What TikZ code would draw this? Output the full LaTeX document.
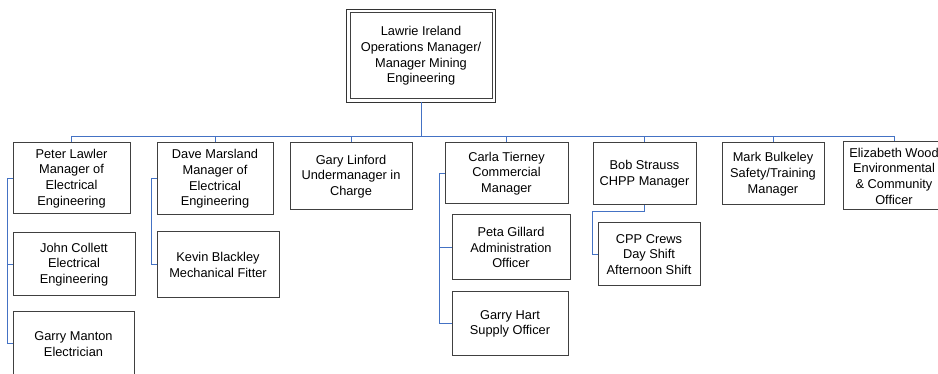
\documentclass[tikz,border=0pt]{standalone}
\usepackage{fontspec}
\setmainfont{Liberation Sans}
\usetikzlibrary{positioning}
\definecolor{linkblue}{RGB}{68,114,196}

\begin{document}
\begin{tikzpicture}[
    x=1pt, y=-1pt,
    box/.style={draw=black!75, line width=1pt, fill=white, align=center, inner sep=0pt,
        font=\fontsize{12.8}{15.7}\selectfont},
    link/.style={draw=linkblue, line width=1pt}
]
\useasboundingbox (0,0) rectangle (938,374);

% top
\node[box, minimum width=142pt, minimum height=86pt] (top) at (421,56)
    {Lawrie Ireland\\Operations Manager/\\Manager Mining\\Engineering};
\draw[draw=black!80, line width=1.2pt] ([shift={(-3pt,-3pt)}]top.south west)
    rectangle ([shift={(3pt,3pt)}]top.north east);

% first row
\node[box, minimum width=117pt, minimum height=71pt] (peter) at (71.5,178.5)
    {Peter Lawler\\Manager of\\Electrical\\Engineering};
\node[box, minimum width=116pt, minimum height=72pt] (dave) at (215,179)
    {Dave Marsland\\Manager of\\Electrical\\Engineering};
\node[box, minimum width=122pt, minimum height=67pt] (linford) at (351,176.5)
    {Gary Linford\\Undermanager in\\Charge};
\node[box, minimum width=123pt, minimum height=61pt] (carla) at (506.5,173.5)
    {Carla Tierney\\Commercial\\Manager};
\node[box, minimum width=103pt, minimum height=62pt] (bob) at (644.5,174)
    {Bob Strauss\\CHPP Manager};
\node[box, minimum width=102pt, minimum height=62pt] (mark) at (773,174)
    {Mark Bulkeley\\Safety/Training\\Manager};
\node[box, minimum width=102pt, minimum height=68pt] (eliz) at (894,176)
    {Elizabeth Wood\\Environmental\\\& Community\\Officer};

% second level
\node[box, minimum width=122pt, minimum height=63pt] (john) at (74,264.5)
    {John Collett\\Electrical\\Engineering};
\node[box, minimum width=121pt, minimum height=64pt] (manton) at (73.5,344)
    {Garry Manton\\Electrician};
\node[box, minimum width=122pt, minimum height=66pt] (kevin) at (218,265)
    {Kevin Blackley\\Mechanical Fitter};
\node[box, minimum width=118pt, minimum height=65pt] (peta) at (511,247.5)
    {Peta Gillard\\Administration\\Officer};
\node[box, minimum width=116pt, minimum height=64pt] (hart) at (510,324)
    {Garry Hart\\Supply Officer};
\node[box, minimum width=102pt, minimum height=63pt] (crews) at (649,254.5)
    {CPP Crews\\Day Shift\\Afternoon Shift};

% connectors
\coordinate (bus) at (0,137);
\foreach \c in {peter,dave,linford,carla,bob,mark,eliz}
    \draw[link] ([yshift=-3pt]top.south) |- (\c.north |- bus) -- (\c.north);

\draw[link] (peter.west) -- ++(-5,0) |- (john.west);
\draw[link] (peter.west) -- ++(-5,0) |- (manton.west);
\draw[link] (dave.west) -- ++(-5,0) |- (kevin.west);
\draw[link] (carla.west) -- ++(-5,0) |- (peta.west);
\draw[link] (carla.west) -- ++(-5,0) |- (hart.west);
\draw[link] (bob.south) -- ++(0,6) -| ([xshift=-5pt]crews.west) -- (crews.west);
\end{tikzpicture}
\end{document}
